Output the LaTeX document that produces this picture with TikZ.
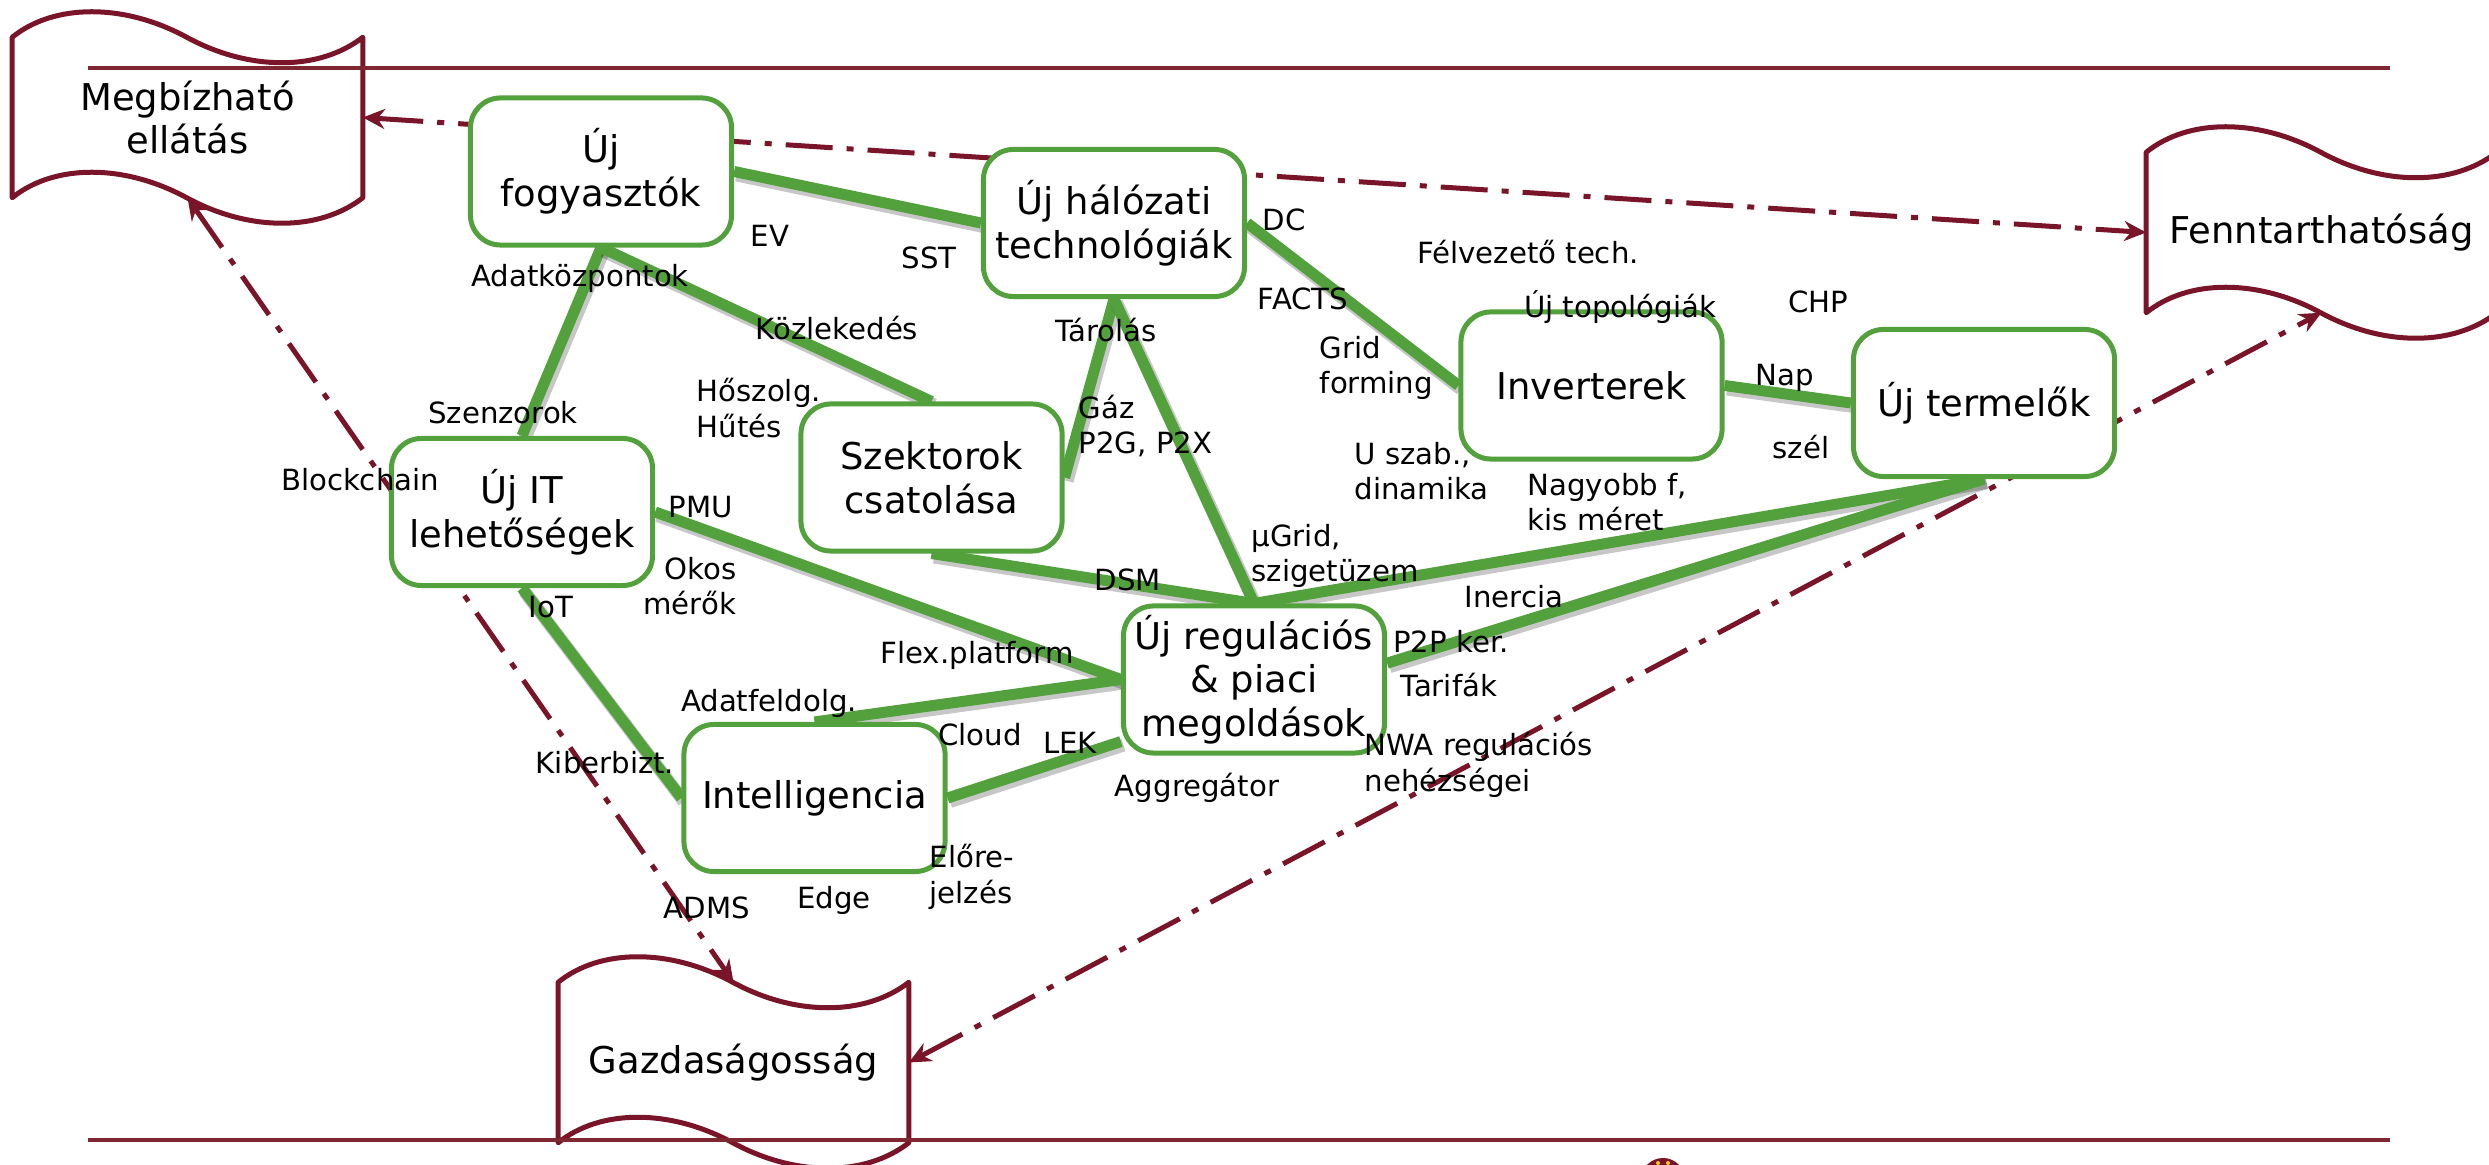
\documentclass[tikz,border=0pt]{standalone}
\usepackage{fontspec}
\setmainfont{DejaVu Sans}
\usetikzlibrary{arrows.meta,calc}
\definecolor{gr}{RGB}{83,161,61}
\definecolor{mr}{RGB}{122,20,40}
\definecolor{hl}{RGB}{125,40,48}
\definecolor{yl}{RGB}{240,200,40}
\pgfdeclarelayer{bgb}
\pgfdeclarelayer{bg}
\pgfsetlayers{bgb,bg,main}
\tikzset{
 box/.style={draw=gr, line width=0.05cm, fill=white, rounded corners=0.3cm, minimum width=2.61cm, minimum height=1.47cm, align=center, inner sep=0pt, font=\fontsize{10.5}{12.4}\selectfont},
 ban/.style={minimum width=3.49cm, minimum height=1.59cm, inner sep=0pt, align=center, font=\fontsize{10.5}{12.4}\selectfont},
 bandraw/.style={draw=mr, line width=0.05cm, fill=white, line join=round},
 lab/.style={inner sep=0pt, font=\fontsize{8.3}{10.1}\selectfont},
 gline/.style={draw=gr, line width=0.11cm, preaction={draw=black, opacity=0.22, line width=0.13cm, transform canvas={shift={(0.025cm,-0.035cm)}}}},
 mline/.style={draw=mr, line width=0.05cm, dash pattern=on 0.47cm off 0.14cm on 0.07cm off 0.14cm, {Stealth[length=0.22cm,width=0.2cm]}-{Stealth[length=0.22cm,width=0.2cm]}},
 hline/.style={draw=hl, line width=0.04cm},
}
\newcommand{\wband}[1]{%
\draw[bandraw] (#1.north west)
 .. controls ($(#1.north west)+(42,-34)$) and ($(#1.north west)+(112,-34)$) .. ($(#1.north west)+(174.5,0)$)
 .. controls ($(#1.north west)+(237,34)$) and ($(#1.north west)+(307,34)$) .. (#1.north east)
 -- (#1.south east)
 .. controls ($(#1.south west)+(307,34)$) and ($(#1.south west)+(237,34)$) .. ($(#1.south west)+(174.5,0)$)
 .. controls ($(#1.south west)+(112,-34)$) and ($(#1.south west)+(42,-34)$) .. (#1.south west)
 -- cycle;}
\begin{document}
\begin{tikzpicture}[x=0.01cm,y=-0.01cm]
\useasboundingbox (0,0) rectangle (2489,1165);
% banners
\node[ban] (megb) at (187.5,117.5) {Megbízható\\ellátás};
\node[ban] (fenn) at (2321.5,232.5) {Fenntarthatóság};
\node[ban] (gazd) at (733.5,1062.5) {Gazdaságosság};
\begin{pgfonlayer}{bgb}
\wband{megb}
\wband{fenn}
\wband{gazd}
\coordinate (tl1) at (88,68);
\coordinate (tl2) at (2390,68);
\coordinate (bl1) at (88,1140);
\coordinate (bl2) at (2390,1140);
\draw[hline] (tl1) -- (tl2);
\draw[hline] (bl1) -- (bl2);
\fill[mr] (1663,1180) circle (22);
\fill[yl] (1658,1163) circle (2);
\fill[yl] (1668,1163) circle (2);
\end{pgfonlayer}
% boxes
\node[box] (fog) at (601,171.5) {Új\\fogyasztók};
\node[box] (hal) at (1114,223) {Új hálózati\\technológiák};
\node[box] (inv) at (1591.5,385.5) {Inverterek};
\node[box] (term) at (1984,403) {Új termelők};
\node[box] (it) at (522,512) {Új IT\\lehetőségek};
\node[box] (szek) at (931.5,477.5) {Szektorok\\csatolása};
\node[box] (reg) at (1254,679.5) {Új regulációs\\\& piaci\\megoldások};
\node[box] (int) at (814.5,798) {Intelligencia};
\begin{pgfonlayer}{bg}
\draw[gline] (fog.east) -- (hal.west);
\draw[gline] (fog.south) -- (it.north);
\draw[gline] (fog.south) -- (szek.north);
\draw[gline] (hal.south) -- (szek.east);
\draw[gline] (hal.south) -- (reg.north);
\draw[gline] (hal.east) -- (inv.west);
\draw[gline] (inv.east) -- (term.west);
\draw[gline] (szek.south) -- (reg.north);
\draw[gline] (it.east) -- (reg.west);
\draw[gline] (it.south) -- (int.west);
\draw[gline] (int.north) -- (reg.west);
\draw[gline] (int.east) -- (reg.205);
\draw[gline] (reg.north) -- (term.south);
\draw[gline] (reg.7) -- (term.south);
\draw[mline] (megb.east) -- (fenn.west);
\draw[mline] (megb.south) -- (gazd.north);
\draw[mline] (gazd.east) -- (fenn.south);
\end{pgfonlayer}
% labels
\node[lab] (l1) at (770,236) {EV};
\node[lab] (l2) at (929,258) {SST};
\node[lab] (l3) at (1284,220) {DC};
\node[lab] (l4) at (1528,252) {Félvezető tech.};
\node[lab] (l5) at (1303,299) {FACTS};
\node[lab] (l6) at (1106,330) {Tárolás};
\node[lab, align=left, anchor=west] (l7) at (1319,368) {Grid\\forming};
\node[lab] (l8) at (1620,307) {Új topológiák};
\node[lab, align=left, anchor=west] (l9) at (1078,426) {Gáz\\P2G, P2X};
\node[lab] (l10) at (1818,302) {CHP};
\node[lab] (l11) at (1785,378) {Nap};
\node[lab] (l12) at (1801,447) {szél};
\node[lab] (l13) at (580,278) {Adatközpontok};
\node[lab, anchor=west] (l14) at (755,328) {Közlekedés};
\node[lab, align=left, anchor=west] (l15) at (696,408) {Hőszolg.\\Hűtés};
\node[lab] (l16) at (503,413) {Szenzorok};
\node[lab] (l17) at (360,480) {Blockchain};
\node[lab] (l18) at (701,507) {PMU};
\node[lab, align=right, anchor=east] (l19) at (737,586) {Okos\\mérők};
\node[lab] (l20) at (551,607) {IoT};
\node[lab] (l21) at (605,763) {Kiberbizt.};
\node[lab] (l22) at (769,703) {Adatfeldolg.};
\node[lab] (l23) at (1128,580) {DSM};
\node[lab, align=left, anchor=west] (l24) at (1251,556) {µGrid,\\szigetüzem};
\node[lab, align=left, anchor=west] (l25) at (1354,471) {U szab.,\\dinamika};
\node[lab, align=left, anchor=west] (l26) at (1527,502) {Nagyobb f,\\kis méret};
\node[lab] (l27) at (1514,597) {Inercia};
\node[lab] (l28) at (1451,642) {P2P ker.};
\node[lab] (l29) at (1449,685) {Tarifák};
\node[lab, align=left, anchor=west] (l30) at (1364,765) {NWA regulációs\\nehézségei};
\node[lab] (l31) at (977,655) {Flex.platform};
\node[lab] (l32) at (980,735) {Cloud};
\node[lab] (l33) at (1070,743) {LEK};
\node[lab] (l34) at (1197,788) {Aggregátor};
\node[lab] (l35) at (707,908) {ADMS};
\node[lab] (l36) at (834,900) {Edge};
\node[lab, align=left, anchor=west] (l37) at (929,877) {Előre-\\jelzés};
\end{tikzpicture}
\end{document}
